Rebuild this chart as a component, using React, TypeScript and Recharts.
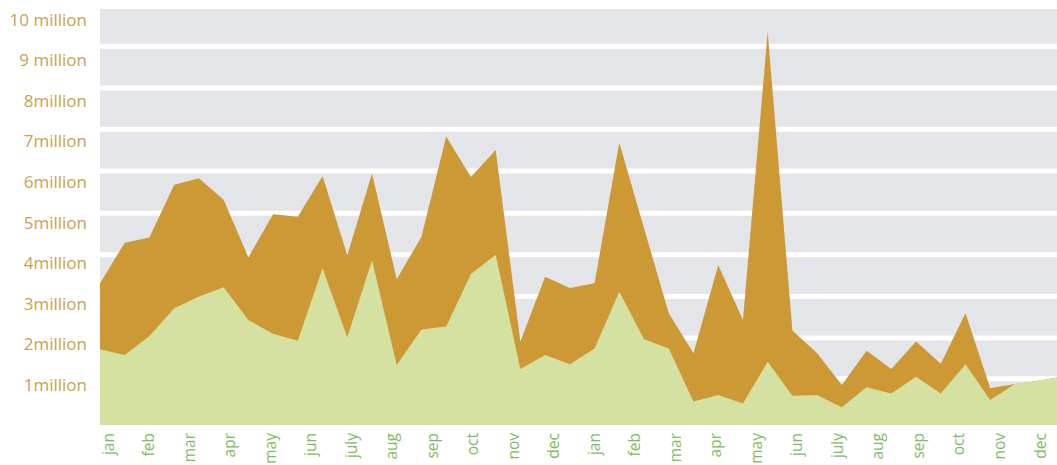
import { AreaChart, Area, XAxis, YAxis, CartesianGrid } from "recharts";

// two readings per ~month, values in millions
const totalViews = [
  3.5, 4.5, 4.63, 5.93, 6.09, 5.56, 4.14, 5.2, 5.14, 6.15,
  4.19, 6.21, 3.6, 4.65, 7.12, 6.12, 6.79, 2.06, 3.66, 3.38,
  3.5, 6.97, 4.86, 2.76, 1.77, 3.95, 2.59, 9.71, 2.33, 1.77,
  0.99, 1.83, 1.38, 2.06, 1.51, 2.76, 0.91, 1.01, 1.1, 1.2,
];
const uniqueViews = [
  1.87, 1.73, 2.2, 2.88, 3.17, 3.4, 2.59, 2.25, 2.08, 3.87,
  2.16, 4.07, 1.48, 2.36, 2.43, 3.73, 4.2, 1.38, 1.73, 1.5,
  1.89, 3.29, 2.12, 1.89, 0.58, 0.74, 0.53, 1.56, 0.72, 0.74,
  0.44, 0.93, 0.78, 1.19, 0.78, 1.5, 0.62, 1.01, 1.1, 1.2,
];

const months = [
  "jan", "feb", "mar", "apr", "may", "jun", "july", "aug", "sep", "oct", "nov", "dec",
  "jan", "feb", "mar", "apr", "may", "jun", "july", "aug", "sep", "oct", "nov", "dec",
];
// month labels don't line up with the readings: first label sits a third of a
// reading in, and there are ~1.64 readings per month label
const MONTH_START = 0.3235;
const READINGS_PER_MONTH = 1.6385;
const monthTicks = months.map((_, k) => MONTH_START + k * READINGS_PER_MONTH);

const yTicks = [1, 2, 3, 4, 5, 6, 7, 8, 9, 10];
const yLabels = [
  "1million", "2million", "3million", "4million", "5million",
  "6million", "7million", "8million", "9 million", "10 million",
];
// white bands sit between the labels, not on them
const bandLines = [1.14, 2.15, 3.17, 4.2, 5.23, 6.27, 7.3, 8.32, 9.35];

const data = totalViews.map((total, i) => ({ i, total, unique: uniqueViews[i] }));

const GOLD = "#cc9935";
const LEAF = "#d4e1a0";
const FONT = "'Open Sans', sans-serif";

const MonthTick = (props: any) => {
  const { x, y, index } = props;
  return (
    <text
      transform={`translate(${x},${y + 6}) rotate(-90)`}
      textAnchor="end"
      dy="0.36em"
      fill="#7dbd5f"
      fontSize={15.5}
      fontFamily={FONT}
    >
      {months[index]}
    </text>
  );
};

export default function App() {
  return (
    <div style={{ position: "absolute", left: 0, top: 0, background: "#fff" }}>
      <AreaChart
        width={1057}
        height={465}
        data={data}
        margin={{ top: 9, right: 0, bottom: 0, left: 0 }}
      >
        <CartesianGrid
          vertical={false}
          horizontalValues={bandLines}
          stroke="#ffffff"
          strokeWidth={5}
          fill="#e4e5e8"
          fillOpacity={1}
        />
        <XAxis
          dataKey="i"
          type="number"
          domain={[0, 38.7]}
          allowDataOverflow
          ticks={monthTicks}
          interval={0}
          axisLine={false}
          tickLine={false}
          tickSize={0}
          height={40}
          tick={<MonthTick />}
        />
        <YAxis
          type="number"
          domain={[0, 10.27]}
          allowDataOverflow
          ticks={yTicks}
          width={100}
          axisLine={false}
          tickLine={false}
          tickSize={0}
          tickMargin={13}
          tickFormatter={(v: number) => yLabels[v - 1]}
          tick={{ fill: "#c9a14c", fontSize: 17, fontFamily: FONT }}
        />
        <Area
          type="linear"
          dataKey="total"
          stroke="none"
          fill={GOLD}
          fillOpacity={1}
          isAnimationActive={false}
        />
        <Area
          type="linear"
          dataKey="unique"
          stroke="none"
          fill={LEAF}
          fillOpacity={1}
          isAnimationActive={false}
        />
      </AreaChart>
    </div>
  );
}
